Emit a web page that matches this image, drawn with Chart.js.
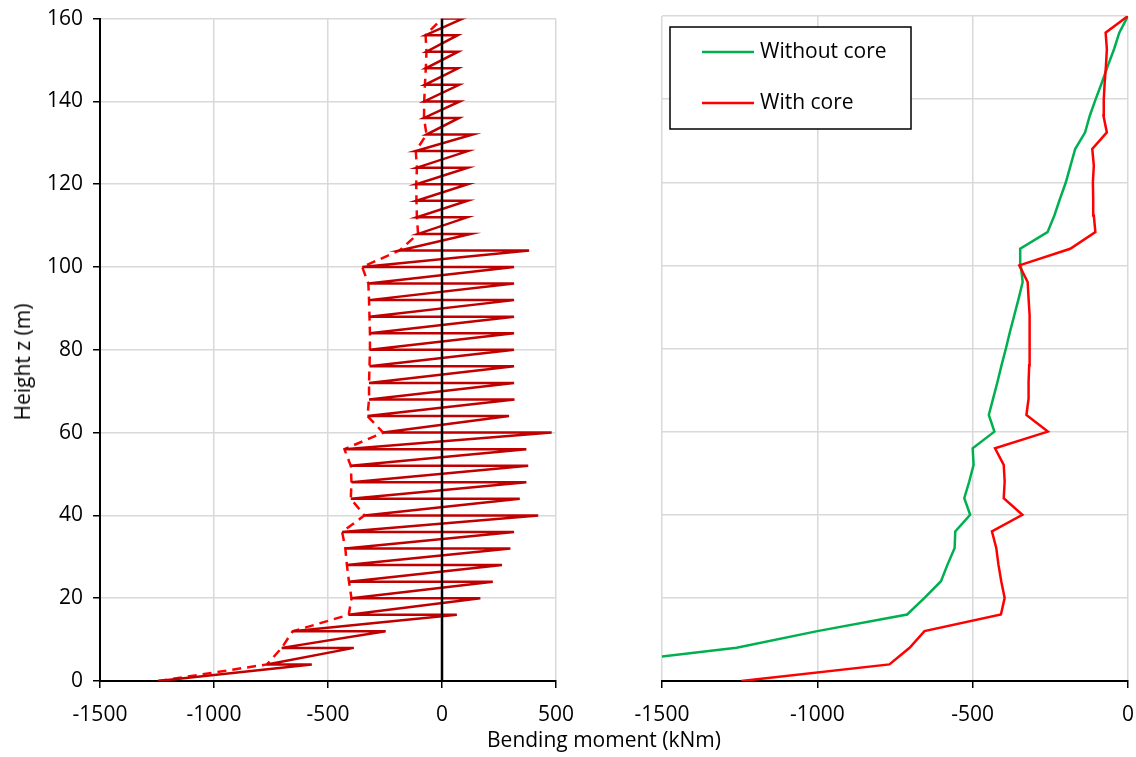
<!DOCTYPE html>
<html lang="en">
<head>
  <meta charset="utf-8">
  <title>Bending moment along height</title>
  <script src="https://cdn.jsdelivr.net/npm/chart.js@4.4.0/dist/chart.umd.min.js"></script>
  <style>
    * { margin: 0; padding: 0; }
    body { width: 1136px; height: 757px; background: #fff; position: relative; overflow: hidden; font-family: 'Open Sans', sans-serif; }
    #leftBox { position: absolute; left: 0; top: -4px; width: 600px; height: 761px; }
    #rightBox { position: absolute; left: 600px; top: 0; width: 548px; height: 757px; }
    #xTitle { position: absolute; left: 0; width: 1208px; top: 725px; text-align: center; font-size: 21px; color: #000; }
    #yTitle { position: absolute; left: 22px; top: 362px; transform: translate(-50%, -50%) rotate(-90deg); font-size: 21px; color: #000; white-space: nowrap; }
  </style>
</head>
<body>
  <div id="leftBox"><canvas id="leftChart" width="600" height="761"></canvas></div>
  <div id="rightBox"><canvas id="rightChart" width="548" height="757"></canvas></div>
  <div id="xTitle">Bending moment (kNm)</div>
  <div id="yTitle">Height z (m)</div>

  <script>
    // heights of the nodes, every 4 m
    const heights = [0, 4, 8, 12, 16, 20, 24, 28, 32, 36, 40, 44, 48, 52, 56, 60, 64, 68, 72, 76, 80,
      84, 88, 92, 96, 100, 104, 108, 112, 116, 120, 124, 128, 132, 136, 140, 144, 148, 152, 156, 160];

    // "With core" moment at each node (kNm) - also the lower end of each element in the zigzag
    const withCore = [-1245, -768, -703, -655, -409, -397, -408, -417, -424, -438, -340, -400, -397, -400, -428,
      -258, -327, -320, -320, -318, -316, -316, -318, -320, -323, -350, -186, -105, -110, -112, -113, -110, -115,
      -68, -79, -78, -75, -71, -68, -72, 0];

    // upper end of each element (value at heights[1..40])
    const elementTop = [-571, -387, -247, 65, 168, 223, 263, 300, 316, 422, 341, 370, 378, 370, 481,
      294, 318, 316, 316, 316, 316, 316, 316, 316, 316, 382, 125, 110, 112, 113, 113, 113, 135,
      75, 78, 75, 71, 71, 69, 91];

    // "Without core" moment at each node (kNm)
    const withoutCore = [-2600, -1720, -1260, -1000, -711, -655, -602, -581, -558, -556, -508, -527, -511, -497, -500,
      -430, -448, -434, -420, -407, -393, -380, -366, -352, -339, -345, -347, -259, -237, -219, -200, -185, -170,
      -138, -123, -104, -84, -65, -45, -28, 0];

    const xTicksLeft = [-1500, -1000, -500, 0, 500];
    const xTicksRight = [-1500, -1000, -500, 0];
    const yTicks = [0, 20, 40, 60, 80, 100, 120, 140, 160];

    const FONT = { family: "'Open Sans', sans-serif", size: 21 };
    const GRID = '#D9D9D9';

    // zigzag: lower end of element -> upper end -> jump to lower end of next element
    const zigzag = [{ x: withCore[0], y: heights[0] }];
    for (let i = 1; i < heights.length; i++) {
      zigzag.push({ x: elementTop[i - 1], y: heights[i] });
      zigzag.push({ x: withCore[i], y: heights[i] });
    }
    const toPts = arr => arr.map((v, i) => ({ x: v, y: heights[i] }));

    function yScale(showAxis) {
      return {
        type: 'linear', min: 0, max: 160,
        afterBuildTicks: s => { s.ticks = yTicks.map(v => ({ value: v })); },
        afterFit: s => { s.width = showAxis ? 100 : 0; },
        ticks: { display: showAxis, color: '#000', font: FONT, padding: 10, callback: v => String(v) },
        grid: { color: GRID, lineWidth: 1.5, tickLength: 7, tickColor: '#000', drawTicks: showAxis },
        border: { display: showAxis, color: '#000', width: 2 }
      };
    }
    function xScale(min, max, tickVals) {
      return {
        type: 'linear', min: min, max: max,
        afterBuildTicks: s => { s.ticks = tickVals.map(v => ({ value: v })); },
        afterFit: s => { s.height = 50; },
        ticks: { color: '#000', font: FONT, padding: 14, maxRotation: 0, callback: v => String(v) },
        grid: { color: GRID, lineWidth: 1.5, tickLength: 7, tickColor: '#000' },
        border: { color: '#000', width: 2 }
      };
    }

    new Chart(document.getElementById('leftChart'), {
      type: 'scatter',
      data: {
        datasets: [
          { label: 'zero', data: [{ x: 0, y: 0 }, { x: 0, y: 160 }], showLine: true, borderColor: '#000', borderWidth: 2.5, pointRadius: 0, order: 0 },
          { label: 'With core (elements)', data: zigzag, showLine: true, borderColor: '#C00000', borderWidth: 2.5, pointRadius: 0, order: 1 },
          { label: 'With core', data: toPts(withCore), showLine: true, borderColor: '#FF0000', borderWidth: 2.5, borderDash: [9, 6], pointRadius: 0, order: 2 }
        ]
      },
      options: {
        responsive: false, animation: false,
        layout: { padding: { left: 0, right: 44, top: 12, bottom: 26 } },
        plugins: { legend: { display: false }, tooltip: { enabled: false } },
        scales: { x: xScale(-1500, 500, xTicksLeft), y: yScale(true) }
      }
    });

    // legend box drawn inside the plot, top-left
    const boxLegend = {
      id: 'boxLegend',
      afterDatasetsDraw(chart) {
        const ctx = chart.ctx, a = chart.chartArea;
        const x0 = a.left + 8, y0 = a.top + 11, w = 241, h = 102;
        ctx.save();
        ctx.fillStyle = '#fff';
        ctx.fillRect(x0, y0, w, h);
        ctx.strokeStyle = '#000';
        ctx.lineWidth = 1.5;
        ctx.strokeRect(x0, y0, w, h);
        ctx.font = `${FONT.size}px ${FONT.family}`;
        ctx.textBaseline = 'middle';
        chart.data.datasets.forEach((ds, i) => {
          const y = y0 + 25 + i * 51;
          ctx.strokeStyle = ds.borderColor;
          ctx.lineWidth = 2.5;
          ctx.beginPath();
          ctx.moveTo(x0 + 32, y);
          ctx.lineTo(x0 + 84, y);
          ctx.stroke();
          ctx.fillStyle = '#000';
          ctx.fillText(ds.label, x0 + 90, y);
        });
        ctx.restore();
      }
    };

    new Chart(document.getElementById('rightChart'), {
      type: 'scatter',
      data: {
        datasets: [
          { label: 'Without core', data: toPts(withoutCore), showLine: true, borderColor: '#00B050', borderWidth: 2.5, pointRadius: 0, order: 1 },
          { label: 'With core', data: toPts(withCore), showLine: true, borderColor: '#FF0000', borderWidth: 2.5, pointRadius: 0, order: 0 }
        ]
      },
      options: {
        responsive: false, animation: false,
        layout: { padding: { left: 62, right: 7, top: 16, bottom: 26 } },
        plugins: { legend: { display: false }, tooltip: { enabled: false } },
        scales: { x: xScale(-1500, 0, xTicksRight), y: yScale(false) }
      },
      plugins: [boxLegend]
    });
  </script>
</body>
</html>
